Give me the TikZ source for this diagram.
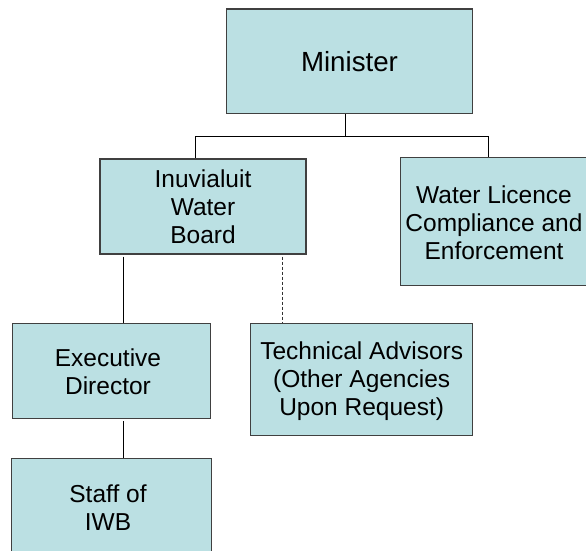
\documentclass[tikz,border=0pt]{standalone}
\usepackage{fontspec}
\setmainfont{Liberation Sans}
\definecolor{boxfill}{HTML}{BBE0E3}
\definecolor{boxline}{HTML}{404040}
\begin{document}
\begin{tikzpicture}[x=1pt,y=-1pt,
  orgbox/.style={draw=boxline, fill=boxfill, line width=1.2pt, rectangle, inner sep=0pt, align=center,
    font=\fontsize{24.5}{28.2}\selectfont},
  txt/.style={inner sep=0pt, align=center, font=\fontsize{24.5}{28.2}\selectfont},
  edge3/.style={draw=boxline, line width=1.2pt},
  link/.style={draw=black, line width=0.9pt},
  dlink/.style={draw=black!80, line width=0.9pt, dash pattern=on 3pt off 2pt}]
\useasboundingbox (0,0) rectangle (586,550);
\fill[white] (0,0) rectangle (586,550);
% boxes
\node[orgbox, minimum width=245.6pt, minimum height=104.7pt, font=\fontsize{27.7}{32}\selectfont] (min) at (349.5,61.3) {Minister};
\node[orgbox, minimum width=206pt, minimum height=95pt] (iwb) at (203,206.5) {Inuvialuit\\Water\\Board};
\node[orgbox, draw=none, minimum width=186pt, minimum height=127pt] (wl) at (494,221.5) {};
\draw[edge3] (wl.north east) -- (wl.north west) -- (wl.south west) -- (wl.south east);
\node[txt] (wltext) at (494,223) {Water Licence\\Compliance and\\Enforcement};
\node[orgbox, minimum width=198.4pt, minimum height=95pt] (ed) at (111.5,371.2) {};
\node[txt] (edtext) at (108,372) {Executive\\Director};
\node[orgbox, minimum width=222pt, minimum height=112pt] (ta) at (361.3,379.7) {};
\node[txt] (tatext) at (361.7,381) {Technical Advisors\\(Other Agencies\\Upon Request)};
\node[orgbox, draw=none, minimum width=198.4pt, minimum height=92pt] (st) at (111.5,504.7) {};
\draw[edge3] (st.south west) -- (st.north west) -- (st.north east) -- (st.south east);
\node[txt] (sttext) at (108,507.5) {Staff of\\IWB};
% connectors
\coordinate (j) at (345.7,136);
\coordinate (jl) at (195,136);
\coordinate (jr) at (488,136);
\draw[link] (min.south -| j) -- (j);
\draw[link] (iwb.north -| jl) -- (jl) -- (jr) -- (wl.north -| jr);
\coordinate (ca) at (123.7,0);
\coordinate (cb) at (282.3,0);
\draw[link] ([yshift=-2pt]iwb.south -| ca) -- (ed.north -| ca);
\draw[dlink] ([yshift=-2pt]iwb.south -| cb) -- (ta.north -| cb);
\draw[link] ([yshift=-2pt]ed.south -| ca) -- (st.north -| ca);
\end{tikzpicture}
\end{document}
